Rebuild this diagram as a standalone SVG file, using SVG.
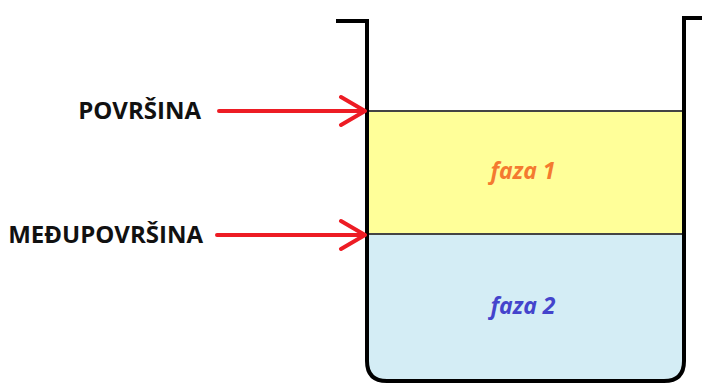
<svg xmlns="http://www.w3.org/2000/svg" width="702" height="383" viewBox="0 0 702 383">
<style>
.lbl{font-family:"Open Sans","Liberation Sans",sans-serif;font-weight:bold;font-size:24px;fill:#111}
.faza{font-family:"Open Sans","Liberation Sans",sans-serif;font-weight:bold;font-style:italic;font-size:23px;text-anchor:middle}
.arr{stroke:#ED1C24;stroke-width:4;fill:none;stroke-linecap:round;stroke-linejoin:round}
</style>
<g id="phase2"><path d="M367,234 H684 V361 Q684,381 664,381 H387 Q367,381 367,361 Z" fill="#D4EDF5"/><text class="faza" x="523" y="314" fill="#4444CC">faza 2</text></g>
<g id="phase1"><rect x="367" y="111" width="317" height="123" fill="#FFFF99"/><text class="faza" x="523" y="179" fill="#F47A30">faza 1</text></g>
<g id="lines"><line x1="367" y1="111" x2="684" y2="111" stroke="#444" stroke-width="2"/><line x1="367" y1="234" x2="684" y2="234" stroke="#444" stroke-width="2"/></g>
<g id="beaker"><path d="M336,21 H367 V361 Q367,381 387,381 H664 Q684,381 684,361 V18 H702" fill="none" stroke="#000" stroke-width="4"/></g>
<g id="povrsina"><text class="lbl" x="201" y="119" text-anchor="end">POVRŠINA</text></g>
<g id="medjupovrsina"><text class="lbl" x="203" y="243" text-anchor="end">MEĐUPOVRŠINA</text></g>
<g id="connectors">
<path class="arr" d="M219,111 H364 M341,97 L365,111 L341,125"/>
<path class="arr" d="M217,235 H364 M341,221 L365,235 L341,249"/>
</g>
</svg>
